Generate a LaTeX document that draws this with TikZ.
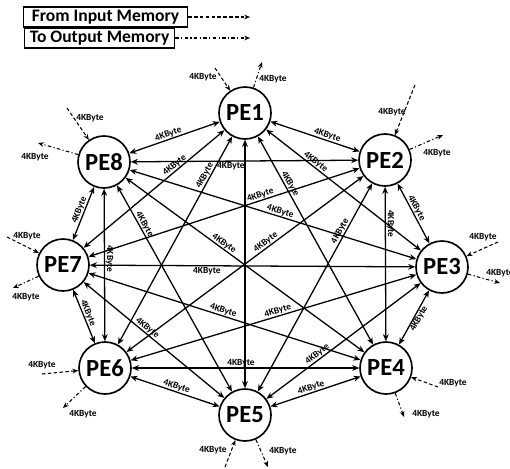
\documentclass[tikz,border=0pt]{standalone}
\usepackage{fontspec}
\setmainfont{Carlito}
\usetikzlibrary{arrows.meta, positioning}

\begin{document}
\begin{tikzpicture}[x=0.03cm, y=-0.03cm,
    pe/.style={draw, circle, line width=1.4pt, minimum size=1.56cm, inner sep=0pt,
        font=\fontsize{21}{21}\selectfont\bfseries},
    link/.style={line width=1.1pt, {Stealth[length=6pt, width=5pt]}-{Stealth[length=6pt, width=5pt]}},
    size/.style={font=\fontsize{8}{8}\selectfont\bfseries, inner sep=0.5pt},
    inflow/.style={line width=0.9pt, dash pattern=on 3pt off 2pt, -{Stealth[length=5pt, width=4pt]}},
    outflow/.style={line width=0.9pt, dash pattern=on 3pt off 2pt on 1pt off 2pt, -{Stealth[length=5pt, width=4pt]}},
    legend/.style={draw, line width=1pt, inner sep=0pt, minimum height=0.6cm,
        font=\fontsize{15}{15}\selectfont\bfseries}
]
    \useasboundingbox (0,0) rectangle (510,468);

    % legend
    \node[legend, minimum width=4.92cm, anchor=west] (fromin) at (23,17) {From Input Memory};
    \node[legend, minimum width=4.5cm, anchor=west] (toout) at (24,38) {To Output Memory};
    \coordinate (fromend) at (250,17);
    \coordinate (toend) at (250,38);
    \draw[inflow] (fromin) -- (fromend);
    \draw[outflow] (toout) -- (toend);

    % processing elements
    \foreach \n/\x/\y in {1/245/113, 2/385/160, 3/442/267, 4/386/368,
                          5/245/415, 6/105/368, 7/63/265, 8/104/162} {
        \node[pe] (PE\n) at (\x,\y) {PE\n};
    }

    % every pair is linked
    \foreach \a/\b/\p/\side in {1/2/0.62/south, 1/3/0.30/south, 1/4/0.24/south,
                                1/6/0.20/south, 1/7/0.33/south, 8/1/0.45/south,
                                2/3/0.45/south, 2/4/0.24/south, 2/5/0.24/south,
                                2/6/0.40/south, 2/7/0.36/south, 8/2/0.44/north,
                                3/4/0.48/north, 3/5/0.65/south, 6/3/0.52/south,
                                7/3/0.36/north, 8/3/0.52/south, 5/4/0.47/south,
                                6/4/0.48/south, 7/4/0.49/south, 8/4/0.40/south,
                                6/5/0.50/south, 7/5/0.43/south, 8/5/0.20/south,
                                7/6/0.47/south, 8/6/0.46/south, 8/7/0.47/south} {
        \draw[link] (PE\a) -- node[size, sloped, pos=\p, anchor=\side] {4KByte} (PE\b);
    }
    \draw[link] (PE1) -- (PE5);

    % memory in
    \foreach \n/\x/\y/\lx/\ly in {1/215/68/203/77, 2/415/85/392/112, 3/498/242/483/237,
                                  4/438/387/453/383, 5/225/467/213/450, 6/42/374/42/365,
                                  7/7/237/27/236, 8/67/108/90/118} {
        \coordinate (in\n) at (\x,\y);
        \node[size] (insize\n) at (\lx,\ly) {4KByte};
        \draw[inflow] (in\n) -- (PE\n);
    }

    % memory out
    \foreach \n/\x/\y/\lx/\ly in {1/262/62/273/79, 2/443/135/437/153, 3/500/283/500/273,
                                  4/404/417/426/414, 5/268/467/283/451, 6/63/408/83/414,
                                  7/13/288/26/297, 8/38/143/35/157} {
        \coordinate (out\n) at (\x,\y);
        \node[size] (outsize\n) at (\lx,\ly) {4KByte};
        \draw[outflow] (PE\n) -- (out\n);
    }
\end{tikzpicture}
\end{document}
